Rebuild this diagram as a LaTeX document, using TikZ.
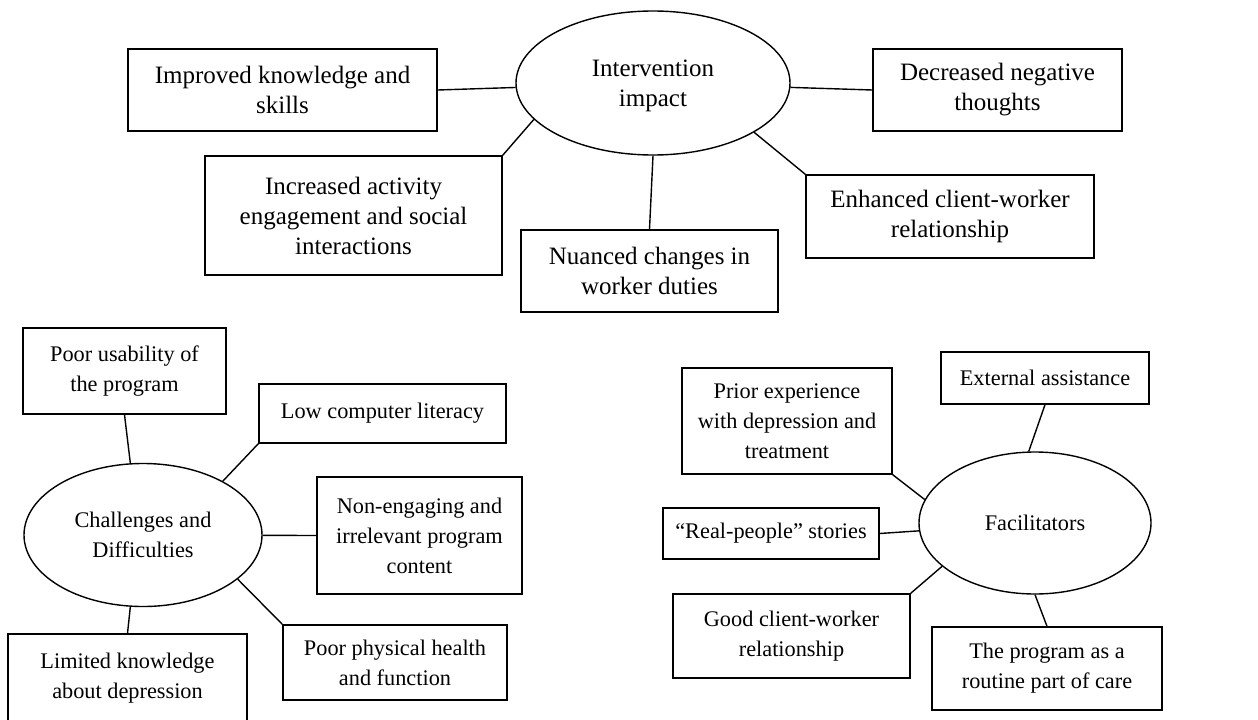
\documentclass[tikz,border=0pt]{standalone}
\usepackage{fontspec}
\setmainfont{Liberation Serif}
\usetikzlibrary{shapes.geometric}
\begin{document}
\begin{tikzpicture}[x=1pt,y=-1pt,
    every node/.style={font=\fontsize{22.3}{30}\selectfont, align=center, line width=1.4pt, inner sep=0pt},
    impact/.style={font=\fontsize{25}{30}\selectfont},
    theme/.style={draw, ellipse, text depth=0pt},
    code/.style={draw, rectangle}]
  \useasboundingbox (0,0) rectangle (1258,720);
  \node[theme, impact, minimum width=274, minimum height=144] (ii) at (653,83) {Intervention\\impact};
  \node[code, impact, minimum width=309, minimum height=82] (imp) at (282.5,90) {Improved knowledge and\\skills};
  \node[code, impact, minimum width=249, minimum height=82] (dec) at (997.5,90) {Decreased negative\\thoughts};
  \node[code, impact, minimum width=288, minimum height=83] (enh) at (950,216.5) {Enhanced client-worker\\relationship};
  \node[code, impact, minimum width=297, minimum height=119] (inc) at (353.5,215.5) {Increased activity\\engagement and social\\interactions};
  \node[code, impact, minimum width=257, minimum height=82] (nua) at (649.5,271) {Nuanced changes in\\worker duties};
  \node[theme, minimum width=238, minimum height=143] (ch) at (143,535) {Challenges and\\Difficulties};
  \node[code, minimum width=203, minimum height=86] (pu) at (124.5,371) {Poor usability of\\the program};
  \node[code, minimum width=247, minimum height=59] (low) at (382.5,413.5) {Low computer literacy};
  \node[code, minimum width=205, minimum height=117] (ne) at (419.5,535.5) {Non-engaging and\\irrelevant program\\content};
  \node[code, minimum width=224, minimum height=75] (pp) at (395,662.5) {Poor physical health\\and function};
  \node[code, minimum width=239, minimum height=88] (lim) at (127.5,678) {Limited knowledge\\about depression};
  \node[theme, minimum width=232, minimum height=142] (fa) at (1035,523) {Facilitators};
  \node[code, minimum width=208, minimum height=52] (ext) at (1045,378) {External assistance};
  \node[code, minimum width=210, minimum height=106] (pri) at (787,421) {Prior experience\\with depression and\\treatment};
  \node[code, minimum width=216, minimum height=51] (rp) at (771,533.5) {“Real-people” stories};
  \node[code, minimum width=237, minimum height=84] (good) at (791.5,636) {Good client-worker\\relationship};
  \node[code, minimum width=230, minimum height=83] (prog) at (1047,668.5) {The program as a\\routine part of care};
  \begin{scope}[line width=1.4pt]
    \draw (imp.east) -- (ii);
    \draw (ii) -- (dec.west);
    \draw (ii.-26) -- (enh.north west);
    \draw (ii.197) -- (inc.north east);
    \draw (ii.south) -- (nua.north);
    \draw (pu.south) -- (ch.100);
    \draw (ch.34) -- (low.south west);
    \draw (ch) -- (ne.west);
    \draw (ch.-25) -- (pp.north west);
    \draw (ch.-100) -- (lim.north);
    \draw (ext.south) -- (fa.95);
    \draw (pri.south east) -- (fa.168);
    \draw (rp.east) -- (fa);
    \draw (good.north east) -- (fa.205);
    \draw (fa.south) -- (prog.north);
  \end{scope}
\end{tikzpicture}
\end{document}
